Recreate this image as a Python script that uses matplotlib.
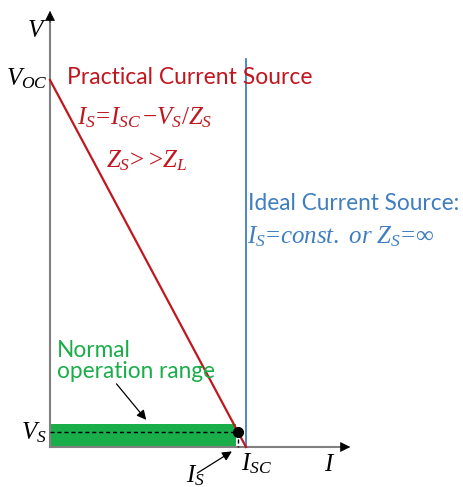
import matplotlib.pyplot as plt
from matplotlib.patches import Rectangle

# I-V characteristic of a current source (normalised units)
I_sc = 1.0          # short circuit current
V_oc = 1.0          # open circuit voltage
V_s = 0.04          # operating voltage
I_s = I_sc - V_s * I_sc / V_oc   # operating current
band_top = 0.063    # top of the normal operation range
ideal_top = 1.057   # top of the ideal source line

practical_I = [0.0, I_sc]
practical_V = [V_oc, 0.0]
ideal_I = [I_sc, I_sc]
ideal_V = [ideal_top, 0.0]

plt.rcParams['mathtext.fontset'] = 'custom'
plt.rcParams['mathtext.rm'] = 'Liberation Serif'
plt.rcParams['mathtext.it'] = 'Liberation Serif:italic'

red = "#c0171f"
blue = "#3f7fc0"
green = "#1aae4a"

W, H = 464, 487
fig = plt.figure(figsize=(W / 100, H / 100), dpi=100)
ax = fig.add_axes([0, 0, 1, 1])
# pixel origin at (50, 447); I_sc -> 196 px, V_oc -> 367 px
ax.set_xlim(-50 / 196, (W - 50) / 196)
ax.set_ylim(-(H - 447) / 367, 447 / 367)
ax.axis("off")

def fx(px):
    return px / W

def fy(py):
    return 1 - py / H

# axes
ax.plot([0, 0], [0, 1.16], color="#808080", lw=1.5, zorder=2)
ax.plot([0, 1.50], [0, 0], color="#808080", lw=1.5, zorder=2)
ax.annotate("", xy=(0, 1.196), xytext=(0, 1.15),
            arrowprops=dict(arrowstyle="-|>", color="black", lw=0.5, mutation_scale=16))
ax.annotate("", xy=(1.546, 0), xytext=(1.50, 0),
            arrowprops=dict(arrowstyle="-|>", color="black", lw=0.5, mutation_scale=16))

# normal operation band
ax.add_patch(Rectangle((0, 0), I_s - 0.01, band_top, color=green, lw=0, zorder=1))

# operating point
ax.plot([0, I_s], [V_s, V_s], color="black", lw=1, ls=(0, (3, 2)), zorder=3)
ax.plot([I_s, I_s], [V_s, 0], color="black", lw=1, ls=(0, (3, 2)), zorder=3)

# characteristics
ax.plot(ideal_I, ideal_V, color=blue, lw=1.3, zorder=3)
ax.plot(practical_I, practical_V, color=red, lw=1.6, zorder=4)
ax.plot([I_s], [V_s], "o", color="black", ms=7, zorder=5)

sans = "Lato"
# labels
fig.text(fx(37), fy(30), "$V$", fontsize=18, ha="center", va="center")
fig.text(fx(48), fy(79), r"$V_{OC}$", fontsize=18, ha="right", va="center")
fig.text(fx(21), fy(433), r"$V_S$", fontsize=18, ha="left", va="center")
fig.text(fx(330), fy(464), "$I$", fontsize=18, ha="center", va="center")
fig.text(fx(241), fy(464), r"$I_{SC}$", fontsize=18, ha="left", va="center")
fig.text(fx(186), fy(476), r"$I_S$", fontsize=18, ha="left", va="center")

fig.text(fx(67), fy(78), "Practical Current Source", fontsize=16.5,
         family=sans, color=red, ha="left", va="center")
fig.text(fx(77), fy(118), r"$I_S\!=\!I_{SC}\,{-}V_S/Z_S$", fontsize=18,
         color=red, ha="left", va="center")
fig.text(fx(106), fy(161), r"$Z_S\!>\!>\!Z_L$", fontsize=18,
         color=red, ha="left", va="center")

fig.text(fx(248), fy(203), "Ideal Current Source:", fontsize=16.3,
         family=sans, color=blue, ha="left", va="center")
fig.text(fx(247), fy(237), r"$I_S\!=\!const.\ or\ Z_S\!=\!\infty$", fontsize=18,
         color=blue, ha="left", va="center")

fig.text(fx(57), fy(361), "Normal\noperation range", fontsize=16.3,
         family=sans, color=green, ha="left", va="center", linespacing=1.0)

# pointer arrows
ax.annotate("", xy=(0.50, 0.068), xytext=(0.33, 0.178),
            arrowprops=dict(arrowstyle="-|>", color="black", lw=0.9, mutation_scale=14))
ax.annotate("", xy=(0.94, -0.008), xytext=(0.74, -0.075),
            arrowprops=dict(arrowstyle="-|>", color="black", lw=0.9, mutation_scale=14))

fig.savefig("out.png", dpi=100)
